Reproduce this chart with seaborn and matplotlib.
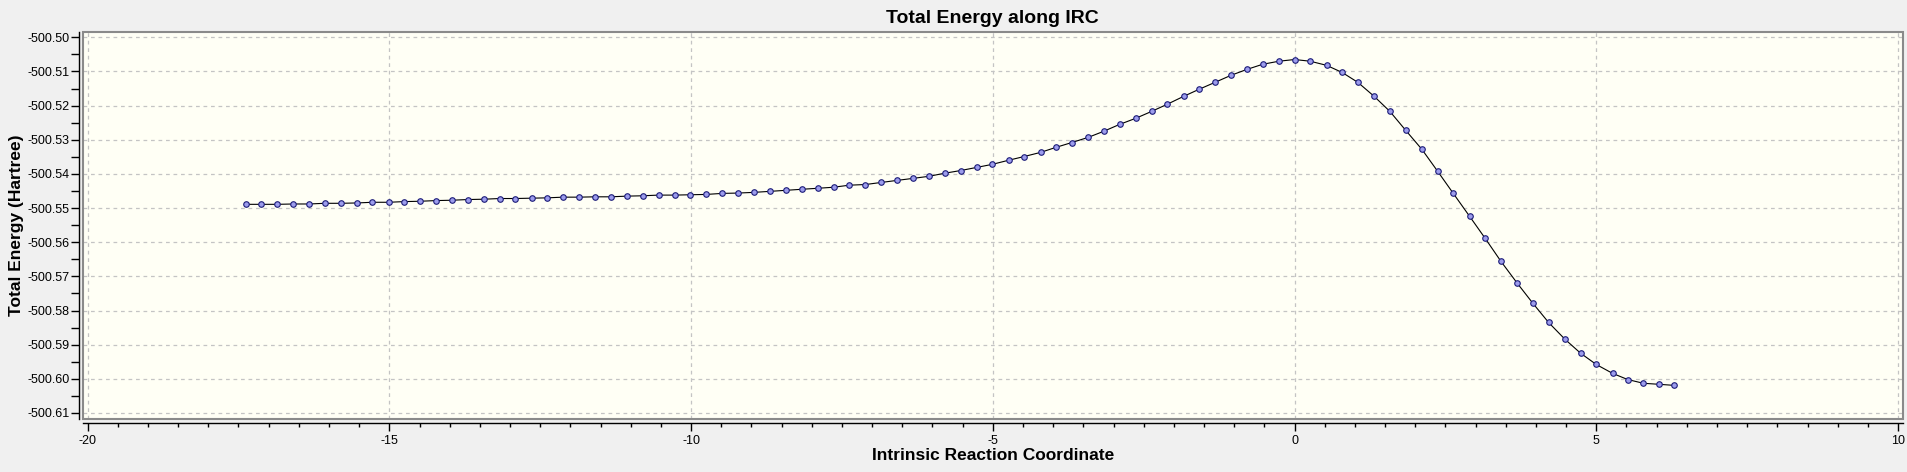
import matplotlib
matplotlib.use("Agg")
import matplotlib.pyplot as plt
from matplotlib.patches import Rectangle
from matplotlib.ticker import MultipleLocator, FormatStrFormatter
import seaborn as sns
import pandas as pd

# IRC points
irc_coord = [
    -17.38, -17.12, -16.86, -16.59, -16.33, -16.07, -15.80, -15.54, -15.28, -15.01,
    -14.75, -14.49, -14.22, -13.96, -13.70, -13.43, -13.17, -12.91, -12.64, -12.38,
    -12.12, -11.85, -11.59, -11.33, -11.06, -10.80, -10.54, -10.27, -10.01, -9.75,
    -9.48, -9.22, -8.96, -8.69, -8.43, -8.17, -7.90, -7.64, -7.38, -7.11,
    -6.85, -6.59, -6.32, -6.06, -5.80, -5.53, -5.27, -5.01, -4.74, -4.48,
    -4.21, -3.95, -3.69, -3.42, -3.16, -2.90, -2.63, -2.37, -2.11, -1.84,
    -1.58, -1.32, -1.05, -0.79, -0.53, -0.26, 0.00, 0.26, 0.53, 0.79,
    1.05, 1.32, 1.58, 1.84, 2.11, 2.37, 2.63, 2.90, 3.16, 3.42,
    3.69, 3.95, 4.21, 4.48, 4.74, 5.00, 5.27, 5.52, 5.78, 6.04,
    6.28,
]
total_energy = [
    -500.5489, -500.5489, -500.5489, -500.5488, -500.5488, -500.5486, -500.5486, -500.5485, -500.5483, -500.5483,
    -500.5481, -500.5480, -500.5478, -500.5477, -500.5475, -500.5474, -500.5472, -500.5472, -500.5471, -500.5470,
    -500.5468, -500.5468, -500.5467, -500.5467, -500.5465, -500.5464, -500.5462, -500.5462, -500.5461, -500.5460,
    -500.5457, -500.5456, -500.5454, -500.5451, -500.5448, -500.5445, -500.5442, -500.5439, -500.5433, -500.5431,
    -500.5425, -500.5419, -500.5413, -500.5407, -500.5398, -500.5390, -500.5381, -500.5372, -500.5360, -500.5349,
    -500.5337, -500.5322, -500.5308, -500.5293, -500.5275, -500.5255, -500.5237, -500.5217, -500.5196, -500.5173,
    -500.5152, -500.5132, -500.5111, -500.5094, -500.5079, -500.5070, -500.5065, -500.5070, -500.5082, -500.5103,
    -500.5132, -500.5173, -500.5217, -500.5272, -500.5328, -500.5392, -500.5457, -500.5524, -500.5589, -500.5656,
    -500.5720, -500.5779, -500.5835, -500.5884, -500.5925, -500.5958, -500.5984, -500.6002, -500.6013, -500.6016,
    -500.6019,
]

df = pd.DataFrame({"irc": irc_coord, "energy": total_energy})

sns.set_theme(style="ticks")
plt.rcParams["font.family"] = ["Liberation Sans", "DejaVu Sans"]
plt.rcParams["text.color"] = "black"
plt.rcParams["axes.labelcolor"] = "black"
plt.rcParams["xtick.color"] = "black"
plt.rcParams["ytick.color"] = "black"

fig = plt.figure(figsize=(19.08, 4.72), dpi=100, facecolor="#f0f0f0")
ax = fig.add_axes([0.0433, 0.1117, 0.9541, 0.8211])
ax.set_facecolor("#fffff5")

sns.lineplot(data=df, x="irc", y="energy", ax=ax, color="black", linewidth=0.8,
             marker="o", markersize=4.0, markerfacecolor="#9c9cec",
             markeredgecolor="#1c1c78", markeredgewidth=0.8)

ax.set_xlim(-20.083, 10.083)
ax.set_ylim(-500.61184, -500.49836)
ax.xaxis.set_major_locator(MultipleLocator(5))
ax.xaxis.set_minor_locator(MultipleLocator(0.5))
ax.yaxis.set_major_locator(MultipleLocator(0.01))
ax.yaxis.set_minor_locator(MultipleLocator(0.005))
ax.yaxis.set_major_formatter(FormatStrFormatter("%.2f"))
ax.xaxis.set_major_formatter(FormatStrFormatter("%d"))

ax.grid(True, which="major", linestyle=(0, (3, 3)), color="#c4c4c4", linewidth=0.9)

for s in ["top", "right"]:
    ax.spines[s].set_visible(False)
for s in ["left", "bottom"]:
    ax.spines[s].set_position(("outward", 2.5))
    ax.spines[s].set_color("black")
    ax.spines[s].set_linewidth(1.0)
ax.add_patch(Rectangle((0, 0), 1, 1, transform=ax.transAxes, fill=False,
                       edgecolor="#8a8a8a", linewidth=1.5, clip_on=False, zorder=5))

ax.tick_params(axis="y", which="both", length=6, width=1, labelsize=9, pad=1)
ax.tick_params(axis="x", which="major", length=5.5, width=1, labelsize=9, pad=3)
ax.tick_params(axis="x", which="minor", length=3, width=1)

ax.set_title("Total Energy along IRC", fontsize=14, fontweight="bold", pad=6, color="black")
ax.set_xlabel("Intrinsic Reaction Coordinate", fontsize=12.5, fontweight="bold", labelpad=1)
ax.set_ylabel("Total Energy (Hartree)", fontsize=12.5, fontweight="bold", labelpad=2)

fig.savefig("out.png", dpi=100, facecolor=fig.get_facecolor())
